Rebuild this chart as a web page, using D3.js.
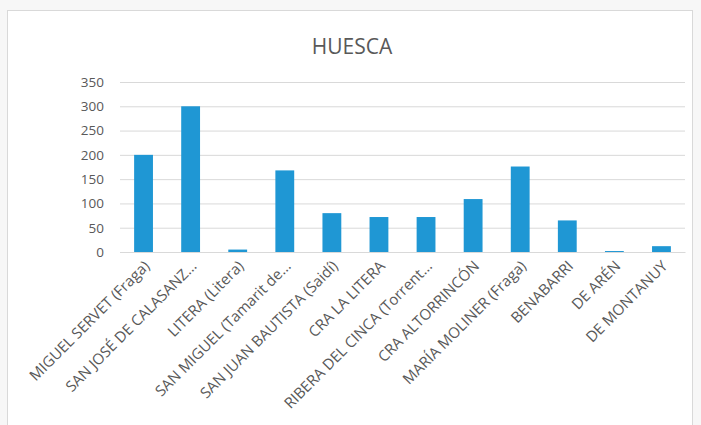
<!DOCTYPE html>
<html>
<head>
<meta charset="utf-8">
<script src="https://cdn.jsdelivr.net/npm/d3@7"></script>
<style>
  body { margin: 0; background: #f7f7f7; font-family: 'Open Sans', sans-serif; }
</style>
</head>
<body>
<script>
const categories = [
  'MIGUEL SERVET (Fraga)', 'SAN JOSÉ DE CALASANZ...', 'LITERA (Litera)',
  'SAN MIGUEL (Tamarit de...', 'SAN JUAN BAUTISTA (Saidí)', 'CRA LA LITERA',
  'RIBERA DEL CINCA (Torrent...', 'CRA ALTORRINCÓN', 'MARÍA MOLINER (Fraga)',
  'BENABARRI', 'DE ARÉN', 'DE MONTANUY'
];
const values = [200, 300, 5, 168, 80, 72, 72, 109, 176, 65, 2, 12];
const yTicks = [0, 50, 100, 150, 200, 250, 300, 350];

const width = 701;
const height = 425;
const margin = { top: 82, right: 16, bottom: 173, left: 120 };
const font = "'Open Sans', sans-serif";

const svg = d3.select('body')
  .append('svg')
  .attr('width', width)
  .attr('height', height);

// chart frame
svg.append('rect')
  .attr('x', 7.5)
  .attr('y', 10.5)
  .attr('width', 685)
  .attr('height', 430)
  .attr('fill', '#fff')
  .attr('stroke', '#d9d9d9');

const x = d3.scaleBand()
  .domain(categories)
  .range([margin.left, width - margin.right])
  .paddingInner(0.6)
  .paddingOuter(0.3);

const y = d3.scaleLinear()
  .domain([0, 350])
  .range([height - margin.bottom, margin.top]);

svg.append('text')
  .attr('x', 352)
  .attr('y', 54)
  .attr('text-anchor', 'middle')
  .attr('fill', '#595959')
  .style('font-family', font)
  .style('font-size', '21px')
  .text('HUESCA');

const yAxis = svg.append('g')
  .attr('transform', `translate(${margin.left},0)`)
  .call(d3.axisLeft(y).tickValues(yTicks).tickSize(-(width - margin.left - margin.right)).tickPadding(16));

yAxis.attr('font-family', font);
yAxis.select('.domain').remove();
yAxis.selectAll('line').attr('stroke', '#d9d9d9');
yAxis.selectAll('text')
  .attr('fill', '#595959')
  .style('font-size', '13.5px');

svg.append('g')
  .selectAll('rect')
  .data(values)
  .enter()
  .append('rect')
  .attr('x', (d, i) => x(categories[i]))
  .attr('y', d => y(d))
  .attr('width', x.bandwidth())
  .attr('height', d => y(0) - y(d))
  .attr('fill', '#1f97d4');

const xAxis = svg.append('g')
  .attr('transform', `translate(0,${y(0)})`)
  .call(d3.axisBottom(x).tickSize(0).tickPadding(0));

xAxis.attr('font-family', font);
xAxis.select('.domain').attr('stroke', '#d9d9d9');
xAxis.selectAll('text')
  .attr('fill', '#595959')
  .style('font-size', '15px')
  .attr('text-anchor', 'end')
  .attr('dy', null)
  .attr('transform', 'translate(7,15) rotate(-45)');
</script>
</body>
</html>
